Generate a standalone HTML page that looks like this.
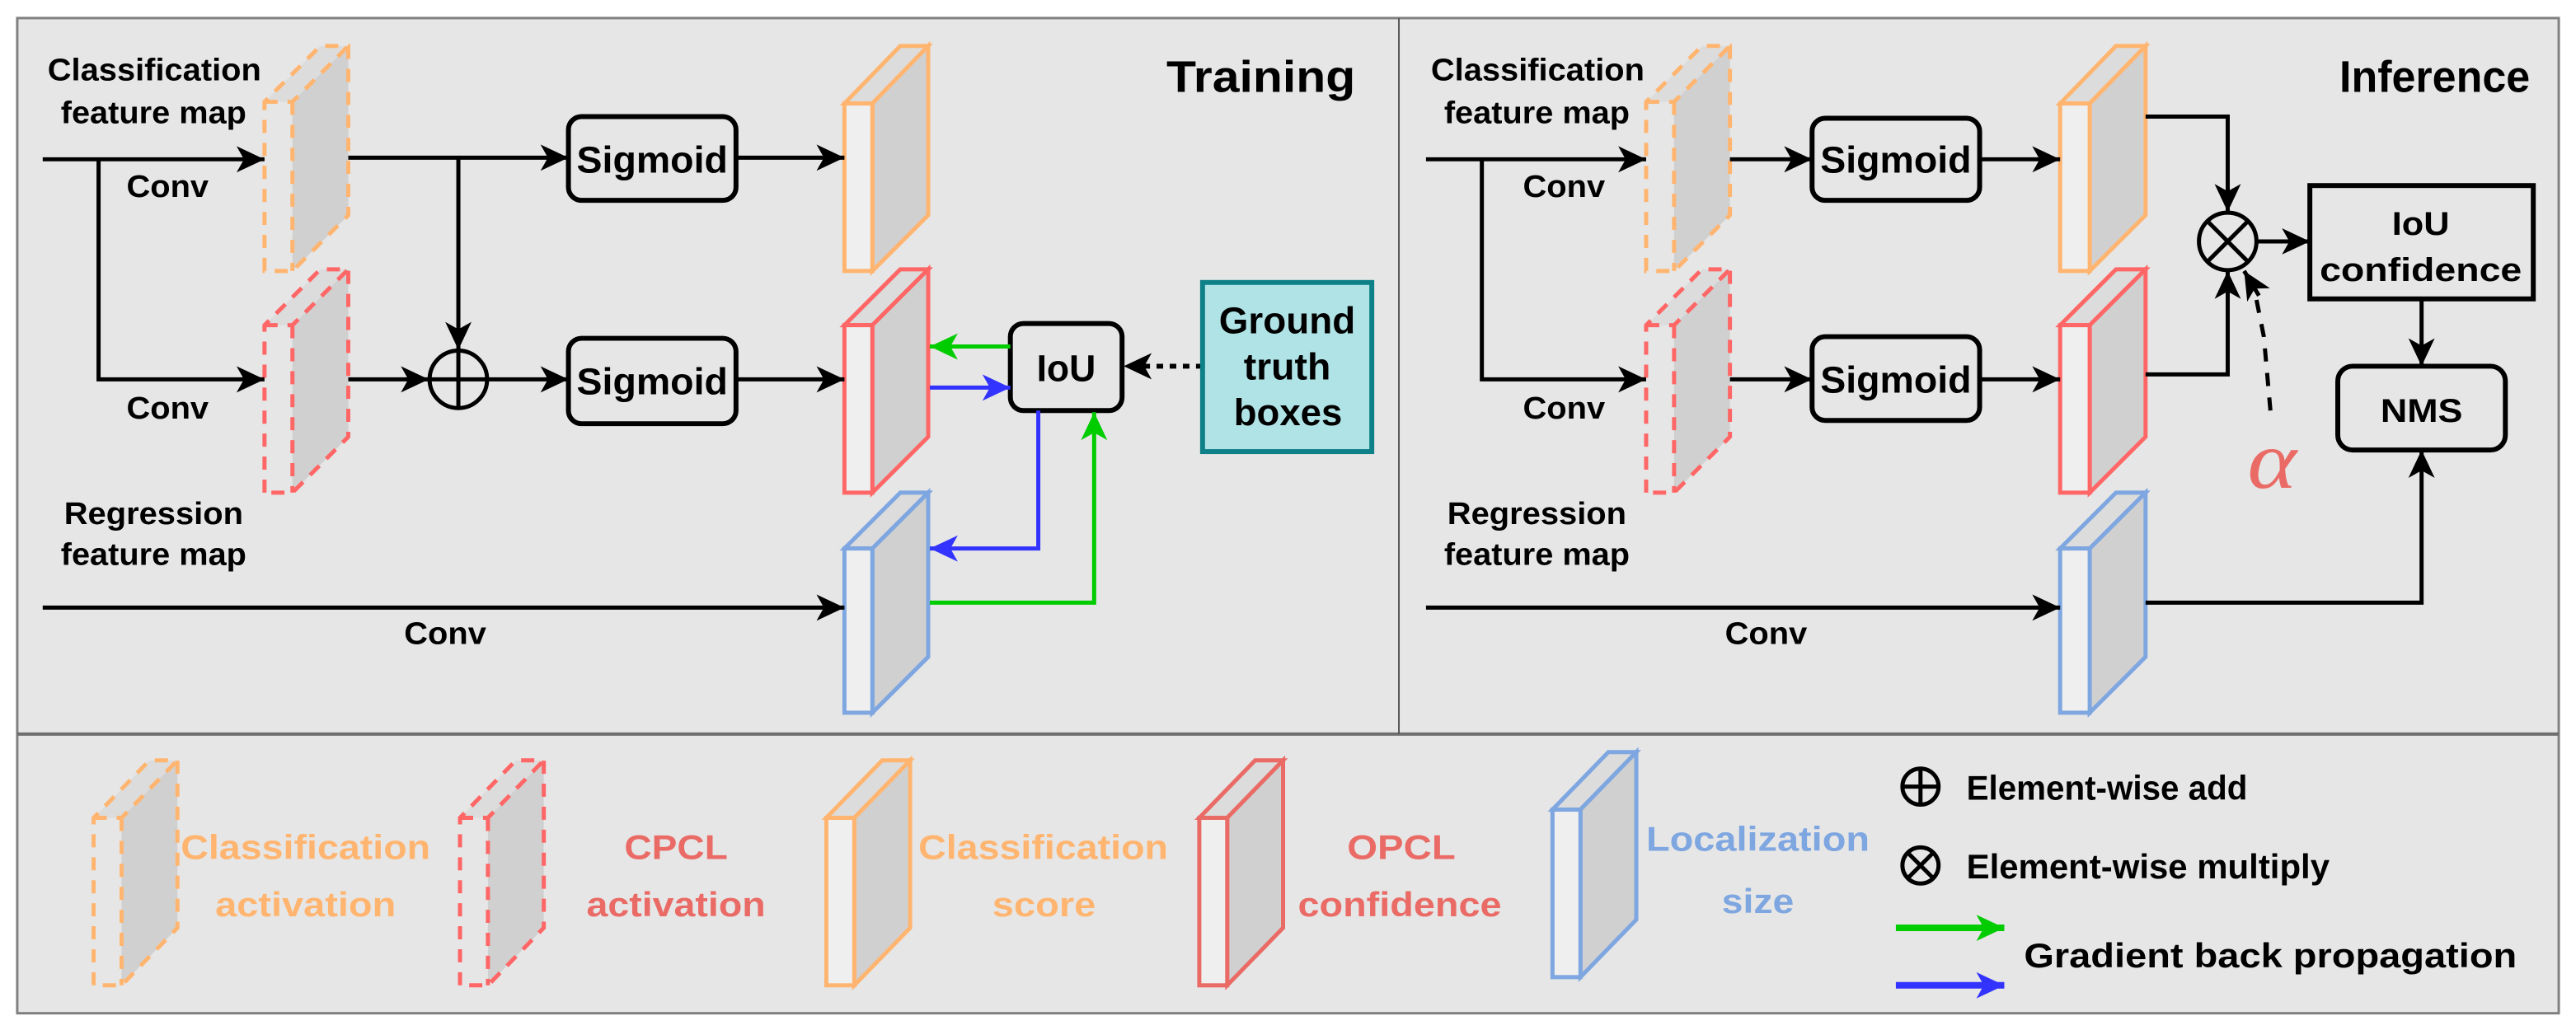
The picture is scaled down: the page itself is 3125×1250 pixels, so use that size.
<!DOCTYPE html>
<html><head><meta charset="utf-8"><style>
html,body{margin:0;padding:0;background:#fff;}
svg{display:block;}
text{font-family:"Liberation Sans",Arial,sans-serif;font-weight:bold;}
</style></head><body>
<svg width="3125" height="1250" viewBox="0 0 1568 627.2" preserveAspectRatio="none" xmlns="http://www.w3.org/2000/svg" font-family="Liberation Sans, Arial, sans-serif" font-weight="bold">
<defs>
<marker id="ak" markerUnits="userSpaceOnUse" markerWidth="18" markerHeight="16" refX="17" refY="8" orient="auto"><path d="M0,0 L17,8 L0,16 L4.5,8 z" fill="#000"/></marker>
<marker id="ag" markerUnits="userSpaceOnUse" markerWidth="18" markerHeight="16" refX="17" refY="8" orient="auto"><path d="M0,0 L17,8 L0,16 L4.5,8 z" fill="#00cc00"/></marker>
<marker id="ab" markerUnits="userSpaceOnUse" markerWidth="18" markerHeight="16" refX="17" refY="8" orient="auto"><path d="M0,0 L17,8 L0,16 L4.5,8 z" fill="#3333ff"/></marker>
</defs>
<rect x="0" y="0" width="1568" height="627.2" fill="#fff"/>
<rect x="10.5" y="11" width="1547" height="606" fill="#e6e6e6" stroke="#808080" stroke-width="1.5"/>
<line x1="10.5" y1="447" x2="1557.5" y2="447" stroke="#6e6e6e" stroke-width="2"/>
<line x1="851.5" y1="11" x2="851.5" y2="447" stroke="#555" stroke-width="1"/>

<g fill="none" stroke-width="2.5">
<g stroke-dasharray="8,6">
<polygon points="178,62 212,28 212,131 178,165" fill="#d0d0d0" stroke="none"/>
<polygon points="161,62 195,28 212,28 178,62" fill="#dcdcdc" stroke="none"/>
<path d="M161,165 L161,62 L195,28 L212,28 L212,131 L178,165 Z M161,62 L178,62 L212,28 M178,62 L178,165" stroke="#ffb570"/>
<polygon points="178,198 212,164 212,266 178,300" fill="#d0d0d0" stroke="none"/>
<polygon points="161,198 195,164 212,164 178,198" fill="#dcdcdc" stroke="none"/>
<path d="M161,300 L161,198 L195,164 L212,164 L212,266 L178,300 Z M161,198 L178,198 L212,164 M178,198 L178,300" stroke="#ff6666"/>
<polygon points="1019,62 1053,28 1053,131 1019,165" fill="#d0d0d0" stroke="none"/>
<polygon points="1002,62 1036,28 1053,28 1019,62" fill="#dcdcdc" stroke="none"/>
<path d="M1002,165 L1002,62 L1036,28 L1053,28 L1053,131 L1019,165 Z M1002,62 L1019,62 L1053,28 M1019,62 L1019,165" stroke="#ffb570"/>
<polygon points="1019,198 1053,164 1053,266 1019,300" fill="#d0d0d0" stroke="none"/>
<polygon points="1002,198 1036,164 1053,164 1019,198" fill="#dcdcdc" stroke="none"/>
<path d="M1002,300 L1002,198 L1036,164 L1053,164 L1053,266 L1019,300 Z M1002,198 L1019,198 L1053,164 M1019,198 L1019,300" stroke="#ff6666"/>
<polygon points="74,498 108,463 108,565 74,600" fill="#d0d0d0" stroke="none"/>
<polygon points="57,498 91,463 108,463 74,498" fill="#dcdcdc" stroke="none"/>
<path d="M57,600 L57,498 L91,463 L108,463 L108,565 L74,600 Z M57,498 L74,498 L108,463 M74,498 L74,600" stroke="#ffb570"/>
<polygon points="297,498 331,463 331,565 297,600" fill="#d0d0d0" stroke="none"/>
<polygon points="280,498 314,463 331,463 297,498" fill="#dcdcdc" stroke="none"/>
<path d="M280,600 L280,498 L314,463 L331,463 L331,565 L297,600 Z M280,498 L297,498 L331,463 M297,498 L297,600" stroke="#ff6666"/>
</g>

<polygon points="514,63 548,28 565,28 531,63" fill="#dcdcdc" stroke="#ffb570"/>
<polygon points="531,63 565,28 565,131 531,165" fill="#d0d0d0" stroke="#ffb570"/>
<rect x="514" y="63" width="17" height="102" fill="#efefef" stroke="#ffb570"/>
<polygon points="514,198 548,164 565,164 531,198" fill="#dcdcdc" stroke="#ff6666"/>
<polygon points="531,198 565,164 565,266 531,300" fill="#d0d0d0" stroke="#ff6666"/>
<rect x="514" y="198" width="17" height="102" fill="#efefef" stroke="#ff6666"/>
<polygon points="514,334 548,300 565,300 531,334" fill="#dcdcdc" stroke="#7ea6e0"/>
<polygon points="531,334 565,300 565,400 531,434" fill="#d0d0d0" stroke="#7ea6e0"/>
<rect x="514" y="334" width="17" height="100" fill="#efefef" stroke="#7ea6e0"/>
<polygon points="1254,63 1288,28 1306,28 1272,63" fill="#dcdcdc" stroke="#ffb570"/>
<polygon points="1272,63 1306,28 1306,131 1272,165" fill="#d0d0d0" stroke="#ffb570"/>
<rect x="1254" y="63" width="18" height="102" fill="#efefef" stroke="#ffb570"/>
<polygon points="1254,198 1288,164 1306,164 1272,198" fill="#dcdcdc" stroke="#ff6666"/>
<polygon points="1272,198 1306,164 1306,266 1272,300" fill="#d0d0d0" stroke="#ff6666"/>
<rect x="1254" y="198" width="18" height="102" fill="#efefef" stroke="#ff6666"/>
<polygon points="1254,334 1288,300 1306,300 1272,334" fill="#dcdcdc" stroke="#7ea6e0"/>
<polygon points="1272,334 1306,300 1306,400 1272,434" fill="#d0d0d0" stroke="#7ea6e0"/>
<rect x="1254" y="334" width="18" height="100" fill="#efefef" stroke="#7ea6e0"/>
<polygon points="503,498 537,463 554,463 520,498" fill="#dcdcdc" stroke="#ffb570"/>
<polygon points="520,498 554,463 554,565 520,600" fill="#d0d0d0" stroke="#ffb570"/>
<rect x="503" y="498" width="17" height="102" fill="#efefef" stroke="#ffb570"/>
<polygon points="730,498 764,463 781,463 747,498" fill="#dcdcdc" stroke="#ea6b66"/>
<polygon points="747,498 781,463 781,565 747,600" fill="#d0d0d0" stroke="#ea6b66"/>
<rect x="730" y="498" width="17" height="102" fill="#efefef" stroke="#ea6b66"/>
<polygon points="945,493 979,458 996,458 962,493" fill="#dcdcdc" stroke="#7ea6e0"/>
<polygon points="962,493 996,458 996,560 962,595" fill="#d0d0d0" stroke="#7ea6e0"/>
<rect x="945" y="493" width="17" height="102" fill="#efefef" stroke="#7ea6e0"/>

<g stroke="#000">
<line x1="26" y1="97" x2="161" y2="97" marker-end="url(#ak)"/>
<polyline points="60,97 60,231 161,231" marker-end="url(#ak)"/>
<line x1="212" y1="96" x2="346" y2="96" marker-end="url(#ak)"/>
<line x1="279" y1="96" x2="279" y2="213" marker-end="url(#ak)"/>
<line x1="212" y1="231" x2="261" y2="231" marker-end="url(#ak)"/>
<circle cx="279" cy="231" r="17.5"/>
<line x1="261.5" y1="231" x2="296.5" y2="231"/>
<line x1="279" y1="213.5" x2="279" y2="248.5"/>
<line x1="297" y1="231" x2="346" y2="231" marker-end="url(#ak)"/>
<rect x="346" y="71" width="102" height="51" rx="8" stroke-width="3"/>
<rect x="346" y="206" width="102" height="52" rx="8" stroke-width="3"/>
<line x1="448" y1="96" x2="514" y2="96" marker-end="url(#ak)"/>
<line x1="448" y1="231" x2="514" y2="231" marker-end="url(#ak)"/>
<line x1="26" y1="370" x2="514" y2="370" marker-end="url(#ak)"/>
<rect x="615" y="197" width="68" height="53" rx="8" stroke-width="3"/>
<line x1="732" y1="223" x2="684" y2="223" stroke-dasharray="4,4" stroke-width="3" marker-end="url(#ak)"/>
</g>
<line x1="615" y1="211" x2="566" y2="211" stroke="#00cc00" marker-end="url(#ag)"/>
<line x1="566" y1="236" x2="615" y2="236" stroke="#3333ff" marker-end="url(#ab)"/>
<polyline points="632,250 632,334 566,334" stroke="#3333ff" marker-end="url(#ab)"/>
<polyline points="566,367 666,367 666,251" stroke="#00cc00" marker-end="url(#ag)"/>
<rect x="732" y="172" width="103" height="103" fill="#b0e3e6" stroke="#0e8088" stroke-width="3"/>

<g stroke="#000">
<line x1="868" y1="97" x2="1002" y2="97" marker-end="url(#ak)"/>
<polyline points="902,97 902,231 1002,231" marker-end="url(#ak)"/>
<line x1="1053" y1="97" x2="1103" y2="97" marker-end="url(#ak)"/>
<line x1="1053" y1="231" x2="1103" y2="231" marker-end="url(#ak)"/>
<rect x="1103" y="72" width="102" height="50" rx="8" stroke-width="3"/>
<rect x="1103" y="205" width="102" height="51" rx="8" stroke-width="3"/>
<line x1="1205" y1="97" x2="1254" y2="97" marker-end="url(#ak)"/>
<line x1="1205" y1="231" x2="1254" y2="231" marker-end="url(#ak)"/>
<line x1="868" y1="370" x2="1254" y2="370" marker-end="url(#ak)"/>
<polyline points="1306,71 1356,71 1356,129" marker-end="url(#ak)"/>
<polyline points="1306,228 1356,228 1356,165" marker-end="url(#ak)"/>
<circle cx="1356" cy="147" r="17.5"/>
<line x1="1343.6" y1="134.6" x2="1368.4" y2="159.4"/>
<line x1="1368.4" y1="134.6" x2="1343.6" y2="159.4"/>
<line x1="1374" y1="147" x2="1406" y2="147" marker-end="url(#ak)"/>
<rect x="1406" y="113" width="136" height="69" stroke-width="3"/>
<line x1="1474" y1="182" x2="1474" y2="223" marker-end="url(#ak)"/>
<rect x="1423" y="223" width="102" height="51" rx="9" stroke-width="3"/>
<polyline points="1306,367 1474,367 1474,274" marker-end="url(#ak)"/>
<path d="M1382,250 L1378,205 L1373,180" stroke-dasharray="8,7"/>
<path d="M1375,180 L1366,165" marker-end="url(#ak)"/>
</g>

<g stroke="#000" stroke-width="2.5">
<circle cx="1169" cy="479" r="11"/>
<line x1="1158" y1="479" x2="1180" y2="479"/>
<line x1="1169" y1="468" x2="1169" y2="490"/>
<circle cx="1169" cy="527" r="11"/>
<line x1="1161.2" y1="519.2" x2="1176.8" y2="534.8"/>
<line x1="1176.8" y1="519.2" x2="1161.2" y2="534.8"/>
</g>
<line x1="1154" y1="565" x2="1220" y2="565" stroke="#00cc00" stroke-width="4" marker-end="url(#ag)"/>
<line x1="1154" y1="600" x2="1220" y2="600" stroke="#3333ff" stroke-width="4" marker-end="url(#ab)"/>
</g>

<g font-size="19" fill="#000" lengthAdjust="spacingAndGlyphs">
<text x="29" y="49" textLength="130" lengthAdjust="spacingAndGlyphs">Classification</text>
<text x="37" y="75" textLength="113" lengthAdjust="spacingAndGlyphs">feature map</text>
<text x="77" y="120" textLength="50" lengthAdjust="spacingAndGlyphs">Conv</text>
<text x="77" y="255" textLength="50" lengthAdjust="spacingAndGlyphs">Conv</text>
<text x="39" y="319" textLength="109" lengthAdjust="spacingAndGlyphs">Regression</text>
<text x="37" y="344" textLength="113" lengthAdjust="spacingAndGlyphs">feature map</text>
<text x="246" y="392" textLength="50" lengthAdjust="spacingAndGlyphs">Conv</text>
<text x="871" y="49" textLength="130" lengthAdjust="spacingAndGlyphs">Classification</text>
<text x="879" y="75" textLength="113" lengthAdjust="spacingAndGlyphs">feature map</text>
<text x="927" y="120" textLength="50" lengthAdjust="spacingAndGlyphs">Conv</text>
<text x="927" y="255" textLength="50" lengthAdjust="spacingAndGlyphs">Conv</text>
<text x="881" y="319" textLength="109" lengthAdjust="spacingAndGlyphs">Regression</text>
<text x="879" y="344" textLength="113" lengthAdjust="spacingAndGlyphs">feature map</text>
<text x="1050" y="392" textLength="50" lengthAdjust="spacingAndGlyphs">Conv</text>
</g>
<g font-size="23" fill="#000">
<text x="351" y="105" textLength="92" lengthAdjust="spacingAndGlyphs">Sigmoid</text>
<text x="351" y="240" textLength="92" lengthAdjust="spacingAndGlyphs">Sigmoid</text>
<text x="1108" y="105" textLength="92" lengthAdjust="spacingAndGlyphs">Sigmoid</text>
<text x="1108" y="239" textLength="92" lengthAdjust="spacingAndGlyphs">Sigmoid</text>
<text x="631" y="232" textLength="36" lengthAdjust="spacingAndGlyphs">IoU</text>
<text x="742" y="203" textLength="83" lengthAdjust="spacingAndGlyphs">Ground</text>
<text x="757" y="231" textLength="53" lengthAdjust="spacingAndGlyphs">truth</text>
<text x="751" y="259" textLength="66" lengthAdjust="spacingAndGlyphs">boxes</text>
<text x="1456" y="143" font-size="20" textLength="35" lengthAdjust="spacingAndGlyphs">IoU</text>
<text x="1412" y="171" font-size="20" textLength="123" lengthAdjust="spacingAndGlyphs">confidence</text>
<text x="1449" y="257" font-size="20" textLength="50" lengthAdjust="spacingAndGlyphs">NMS</text>
</g>
<text x="710" y="56" font-size="27" textLength="115" lengthAdjust="spacingAndGlyphs">Training</text>
<text x="1424" y="56" font-size="27" textLength="116" lengthAdjust="spacingAndGlyphs">Inference</text>
<text x="1368" y="297" font-size="50" fill="#ea6b66" textLength="30" lengthAdjust="spacingAndGlyphs" style="font-family:'Liberation Serif',serif;font-weight:normal;font-style:italic">α</text>

<g font-size="21">
<text x="110" y="523" fill="#ffb570" textLength="152" lengthAdjust="spacingAndGlyphs">Classification</text>
<text x="131" y="558" fill="#ffb570" textLength="110" lengthAdjust="spacingAndGlyphs">activation</text>
<text x="380" y="523" fill="#ea6b66" textLength="63" lengthAdjust="spacingAndGlyphs">CPCL</text>
<text x="357" y="558" fill="#ea6b66" textLength="109" lengthAdjust="spacingAndGlyphs">activation</text>
<text x="559" y="523" fill="#ffb570" textLength="152" lengthAdjust="spacingAndGlyphs">Classification</text>
<text x="604" y="558" fill="#ffb570" textLength="63" lengthAdjust="spacingAndGlyphs">score</text>
<text x="820" y="523" fill="#ea6b66" textLength="66" lengthAdjust="spacingAndGlyphs">OPCL</text>
<text x="790" y="558" fill="#ea6b66" textLength="124" lengthAdjust="spacingAndGlyphs">confidence</text>
<text x="1002" y="518" fill="#7ea6e0" textLength="136" lengthAdjust="spacingAndGlyphs">Localization</text>
<text x="1048" y="556" fill="#7ea6e0" textLength="44" lengthAdjust="spacingAndGlyphs">size</text>
</g>
<g font-size="21" fill="#000">
<text x="1197" y="487" textLength="171" lengthAdjust="spacingAndGlyphs">Element-wise add</text>
<text x="1197" y="535" textLength="221" lengthAdjust="spacingAndGlyphs">Element-wise multiply</text>
<text x="1232" y="589" textLength="300" lengthAdjust="spacingAndGlyphs">Gradient back propagation</text>
</g>
</svg>
</body></html>
